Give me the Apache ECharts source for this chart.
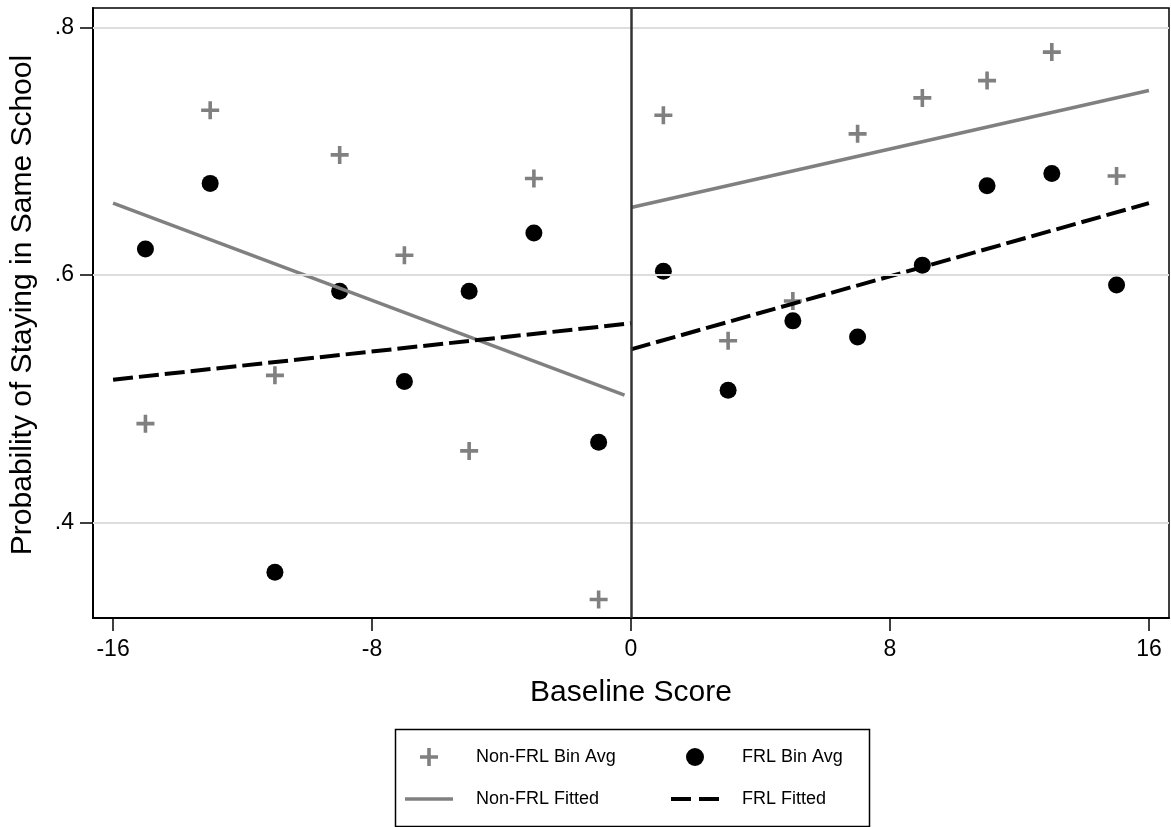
<!DOCTYPE html>
<html>
<head>
<meta charset="utf-8">
<script src="https://cdn.jsdelivr.net/npm/echarts@6/dist/echarts.min.js"></script>
<style>html,body{margin:0;padding:0;background:#fff}#c{width:1171px;height:827px}</style>
</head>
<body>
<div id="c"></div>
<script>
// Data
const binX = [-15,-13,-11,-9,-7,-5,-3,-1,1,3,5,7,9,11,13,15];
const nonFrlAvg = [0.480,0.733,0.519,0.697,0.616,0.458,0.678,0.338,0.729,0.547,0.579,0.714,0.743,0.757,0.780,0.680];
const frlAvg = [0.621,0.674,0.360,0.587,0.514,0.587,0.634,0.465,0.603,0.507,0.563,0.550,0.608,0.672,0.682,0.592];
const nonFrlFitLeftX = [-16, -0.2];
const nonFrlFitLeftY = [0.658, 0.503];
const nonFrlFitRightX = [0, 16];
const nonFrlFitRightY = [0.6545, 0.749];
const frlFitLeftX = [-16, 0];
const frlFitLeftY = [0.5155, 0.561];
const frlFitRightX = [0, 16];
const frlFitRightY = [0.540, 0.658];
const xTicks = [-16, -8, 0, 8, 16];
const yTicks = [0.4, 0.6, 0.8];

const zip = (a, b) => a.map((v, i) => [v, b[i]]);
const FONT = '"Liberation Sans", Arial, sans-serif';
const GRAY = '#808080';
const PLUS = 'path://M0,4H4V0H6V4H10V6H6V10H4V6H0Z';
const SOLID_ICON = 'path://M0,0H48V3.5H0Z';
const DASH_ICON = 'path://M0,0H20V4H0Z M28,0H48V4H28Z';

const chart = echarts.init(document.getElementById('c'), null, {renderer: 'canvas'});
const legendCommon = {
  orient: 'vertical', top: 748, itemWidth: 48, itemHeight: 18, itemGap: 24, padding: 0,
  textStyle: {fontFamily: FONT, fontSize: 18, color: '#000', lineHeight: 18, padding: [0, 0, 0, 18]},
  selectedMode: false
};
chart.setOption({
  animation: false,
  backgroundColor: '#fff',
  textStyle: {fontFamily: FONT},
  grid: {left: 92, right: 2, top: 8, bottom: 209, show: true, borderColor: '#000', borderWidth: 1.5, containLabel: false},
  xAxis: {
    type: 'value', min: -16.62, max: 16.62,
    name: 'Baseline Score', nameLocation: 'middle', nameGap: 60,
    nameTextStyle: {fontFamily: FONT, fontSize: 30, color: '#000'},
    axisLine: {show: true, onZero: false, lineStyle: {color: '#000', width: 2}},
    axisTick: {show: true, length: 13, lineStyle: {color: '#000', width: 1.5}, customValues: xTicks},
    axisLabel: {fontFamily: FONT, fontSize: 23, color: '#000', margin: 20, customValues: xTicks},
    splitLine: {show: false}
  },
  yAxis: {
    type: 'value', min: 0.3231, max: 0.8156,
    name: 'Probability of Staying in Same School', nameLocation: 'middle', nameGap: 55, nameRotate: 90,
    nameTextStyle: {fontFamily: FONT, fontSize: 30, color: '#000', padding: [0, 0, 0, 16]},
    axisLine: {show: true, onZero: false, lineStyle: {color: '#000', width: 2}},
    axisTick: {show: true, length: 13, lineStyle: {color: '#000', width: 1.5}, customValues: yTicks},
    axisLabel: {fontFamily: FONT, fontSize: 23, color: '#000', margin: 19, customValues: yTicks,
      formatter: v => String(+v.toFixed(2)).replace(/^0/, '')},
    splitLine: {show: false}
  },
  legend: [
    Object.assign({left: 405, data: [
      {name: 'Non-FRL Bin Avg'},
      {name: 'Non-FRL Fitted', icon: SOLID_ICON}
    ]}, legendCommon),
    Object.assign({left: 671, data: [
      {name: 'FRL Bin Avg'},
      {name: 'FRL Fitted', icon: DASH_ICON}
    ]}, legendCommon)
  ],
  graphic: [{
    type: 'rect', left: 393, top: 727, shape: {width: 474, height: 97},
    style: {fill: 'none', stroke: '#000', lineWidth: 1.5}, silent: true
  }],
  series: [
    {
      name: 'grid', type: 'line', data: [], silent: true,
      markLine: {
        silent: true, symbol: 'none', label: {show: false}, animation: false,
        lineStyle: {color: '#dddddd', width: 2, type: 'solid'},
        data: yTicks.map(v => ({yAxis: v}))
      },
      z: 1
    },
    {
      name: 'Non-FRL Bin Avg', type: 'scatter', data: zip(binX, nonFrlAvg),
      symbol: PLUS, symbolSize: 18, symbolKeepAspect: true,
      itemStyle: {color: GRAY, opacity: 1}, z: 3
    },
    {
      name: 'FRL Bin Avg', type: 'scatter', data: zip(binX, frlAvg),
      symbol: 'circle', symbolSize: 17, symbolKeepAspect: true,
      itemStyle: {color: '#000', opacity: 1}, z: 3
    },
    {
      name: 'Non-FRL Fitted', type: 'line', data: zip(nonFrlFitLeftX, nonFrlFitLeftY),
      symbol: 'none', showSymbol: false, lineStyle: {color: GRAY, width: 3.5, type: 'solid'},
      itemStyle: {color: GRAY}, z: 4
    },
    {
      name: 'Non-FRL Fitted', type: 'line', data: zip(nonFrlFitRightX, nonFrlFitRightY),
      symbol: 'none', showSymbol: false, lineStyle: {color: GRAY, width: 3.5, type: 'solid'},
      itemStyle: {color: GRAY}, z: 4
    },
    {
      name: 'FRL Fitted', type: 'line', data: zip(frlFitLeftX, frlFitLeftY),
      symbol: 'none', showSymbol: false, lineStyle: {color: '#000', width: 4, type: [20, 6]},
      itemStyle: {color: '#000'}, z: 4
    },
    {
      name: 'FRL Fitted', type: 'line', data: zip(frlFitRightX, frlFitRightY),
      symbol: 'none', showSymbol: false, lineStyle: {color: '#000', width: 4, type: [20, 6]},
      itemStyle: {color: '#000'}, z: 4
    },
    {
      name: 'cutoff', type: 'line', data: [], silent: true,
      markLine: {
        silent: true, symbol: 'none', label: {show: false}, animation: false,
        lineStyle: {color: '#333', width: 2.5, type: 'solid'},
        data: [{xAxis: 0}]
      },
      z: 5
    }
  ]
});
</script>
</body>
</html>
